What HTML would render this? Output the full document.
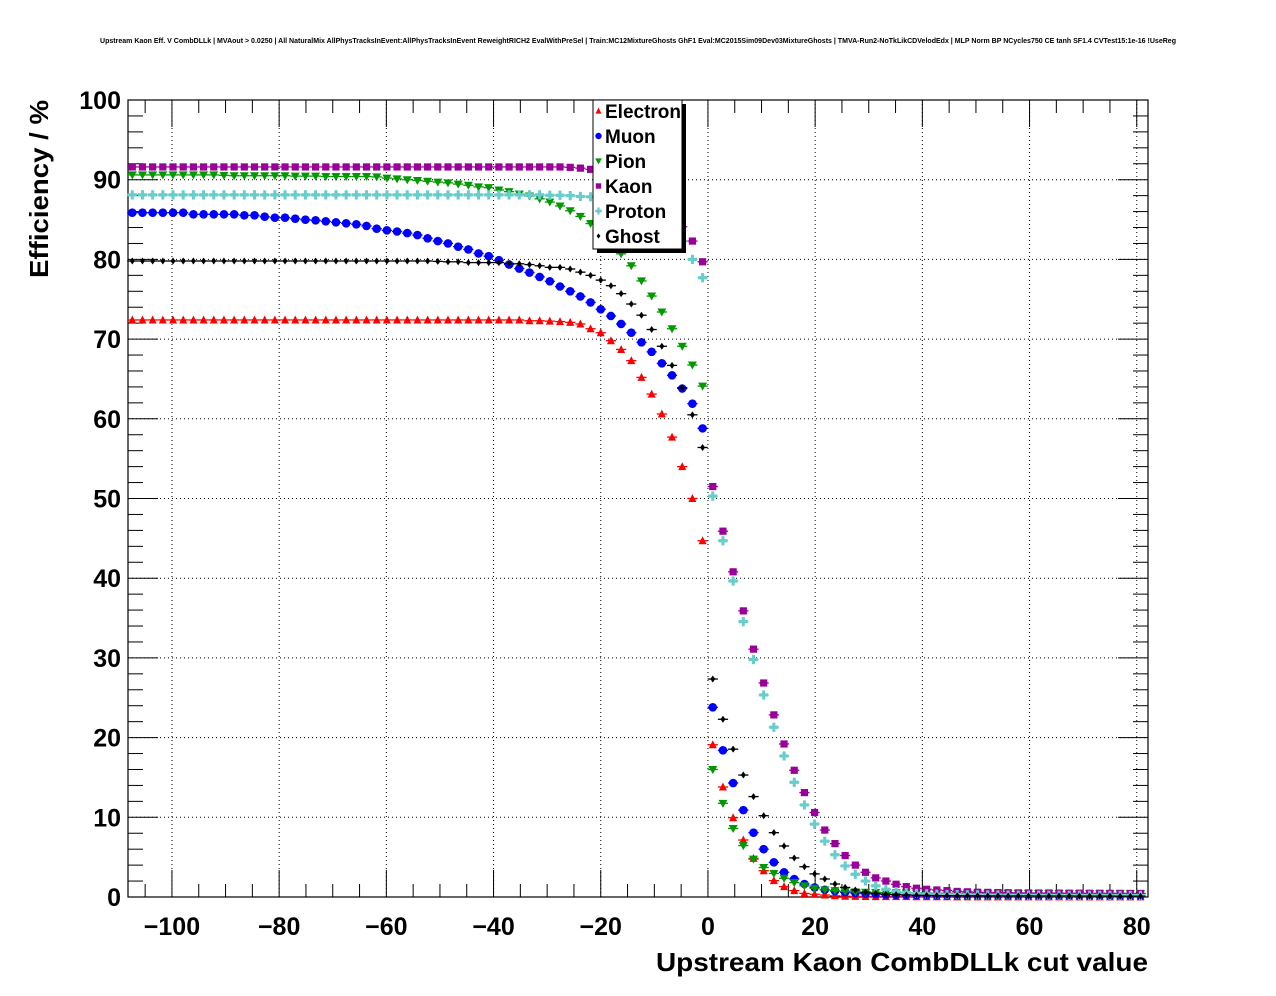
<!DOCTYPE html>
<html><head><meta charset="utf-8"><style>
html,body{margin:0;padding:0;background:#fff;}
svg{display:block;font-family:"Liberation Sans",Arial,sans-serif;}
</style></head><body>
<svg id="chart" width="1276" height="996" viewBox="0 0 1276 996" xmlns="http://www.w3.org/2000/svg">
<rect x="0" y="0" width="1276" height="996" fill="#fff"/>
<text x="100" y="43" font-size="7" font-weight="bold" textLength="1076" lengthAdjust="spacingAndGlyphs">Upstream Kaon Eff. V CombDLLk | MVAout &gt; 0.0250 | All NaturalMix AllPhysTracksInEvent:AllPhysTracksInEvent ReweightRICH2 EvalWithPreSel | Train:MC12MixtureGhosts GhF1 Eval:MC2015Sim09Dev03MixtureGhosts | TMVA-Run2-NoTkLikCDVelodEdx | MLP Norm BP NCycles750 CE tanh SF1.4 CVTest15:1e-16 !UseReg</text>
<g id="grid"></g>
<g id="axes"></g>
<g id="series"></g>
<text transform="translate(48,100) rotate(-90)" text-anchor="end" font-size="26" font-weight="bold" textLength="178" lengthAdjust="spacingAndGlyphs">Efficiency / %</text>
<text x="1148" y="971" text-anchor="end" font-size="26" font-weight="bold" textLength="492" lengthAdjust="spacingAndGlyphs">Upstream Kaon CombDLLk cut value</text>
<g id="legend"></g>
</svg>
<script>
const xTicks=[-100,-80,-60,-40,-20,0,20,40,60,80];
const yTicks=[0,10,20,30,40,50,60,70,80,90,100];
const nPts=100;
const cutStart=-107.4, cutStep=1.9;
const cuts=[];for(let k=0;k<nPts;k++)cuts.push(+(cutStart+cutStep*k).toFixed(2));
const electron=[72.4,72.4,72.4,72.4,72.4,72.4,72.4,72.4,72.4,72.4,72.4,72.4,72.4,72.4,72.4,72.4,72.4,72.4,72.4,72.4,72.4,72.4,72.4,72.4,72.4,72.4,72.4,72.4,72.4,72.4,72.4,72.4,72.4,72.4,72.4,72.4,72.4,72.4,72.4,72.3,72.3,72.25,72.2,72.1,71.9,71.3,70.8,69.8,68.7,67.3,65.2,63.1,60.6,57.7,54.0,50.0,44.7,19.1,13.8,9.95,7.15,4.85,3.3,2.05,1.3,0.8,0.45,0.35,0.25,0.15,0.1,0.08,0.06,0.05,0.05,0.04,0.04,0.03,0.03,0.03,0.03,0.02,0.02,0.02,0.02,0.02,0.02,0.02,0.02,0.02,0.02,0.02,0.02,0.02,0.02,0.02,0.02,0.02,0.02,0.02];
const muon=[85.86,85.86,85.86,85.86,85.86,85.86,85.66,85.66,85.66,85.66,85.66,85.53,85.53,85.36,85.23,85.23,85.11,84.98,84.9,84.78,84.65,84.53,84.4,84.2,83.85,83.65,83.5,83.3,83.05,82.65,82.3,82.0,81.6,81.25,80.75,80.4,79.9,79.35,78.85,78.35,77.8,77.25,76.6,76.0,75.35,74.6,73.74,72.9,71.9,70.8,69.6,68.4,66.96,65.46,63.8,61.9,58.8,23.8,18.4,14.3,10.9,8.07,6.0,4.35,3.1,2.26,1.63,1.2,0.9,0.75,0.6,0.5,0.42,0.36,0.3,0.28,0.26,0.24,0.22,0.2,0.2,0.19,0.18,0.18,0.17,0.17,0.16,0.16,0.15,0.15,0.15,0.15,0.14,0.14,0.14,0.14,0.13,0.13,0.13,0.13];
const pion=[90.6,90.6,90.6,90.6,90.6,90.6,90.6,90.6,90.6,90.55,90.5,90.5,90.5,90.5,90.5,90.5,90.45,90.45,90.45,90.4,90.4,90.4,90.4,90.4,90.35,90.2,90.1,90.0,89.9,89.8,89.7,89.6,89.45,89.3,89.1,89.0,88.7,88.5,88.2,87.95,87.6,87.2,86.7,86.1,85.4,84.5,83.3,82.0,80.7,79.2,77.3,75.4,73.4,71.3,69.1,66.75,64.1,16.0,11.75,8.6,6.45,4.75,3.7,2.95,2.35,1.8,1.4,1.1,0.9,0.8,0.7,0.65,0.6,0.58,0.55,0.53,0.52,0.5,0.5,0.49,0.48,0.48,0.47,0.47,0.46,0.46,0.45,0.45,0.45,0.44,0.44,0.44,0.43,0.43,0.43,0.42,0.42,0.42,0.42,0.42];
const kaon=[91.6,91.6,91.6,91.6,91.6,91.6,91.6,91.6,91.6,91.6,91.6,91.6,91.6,91.6,91.6,91.6,91.6,91.6,91.6,91.6,91.6,91.6,91.6,91.6,91.6,91.6,91.6,91.6,91.6,91.6,91.6,91.6,91.6,91.6,91.6,91.6,91.6,91.6,91.6,91.6,91.6,91.6,91.6,91.55,91.45,91.3,91.1,90.8,90.4,89.9,89.2,88.3,87.1,85.7,84.1,82.3,79.7,51.5,45.9,40.8,35.9,31.1,26.85,22.85,19.2,15.9,13.1,10.6,8.4,6.7,5.2,4.0,3.1,2.4,2.0,1.6,1.3,1.1,0.97,0.88,0.8,0.7,0.65,0.6,0.58,0.56,0.54,0.52,0.51,0.5,0.5,0.49,0.48,0.48,0.47,0.47,0.46,0.46,0.45,0.45];
const proton=[88.1,88.1,88.1,88.1,88.1,88.1,88.1,88.1,88.1,88.1,88.1,88.1,88.1,88.1,88.1,88.1,88.1,88.1,88.1,88.1,88.1,88.1,88.1,88.1,88.1,88.1,88.1,88.1,88.1,88.1,88.1,88.1,88.1,88.1,88.1,88.1,88.1,88.1,88.1,88.1,88.1,88.05,88.05,88.0,87.9,87.85,87.8,87.6,87.3,87.0,86.5,85.8,84.9,83.8,82.3,80.0,77.7,50.3,44.7,39.65,34.55,29.8,25.35,21.3,17.7,14.4,11.55,9.15,7.0,5.3,3.9,2.85,2.0,1.4,0.97,0.67,0.55,0.45,0.4,0.35,0.32,0.3,0.28,0.27,0.26,0.25,0.24,0.23,0.22,0.22,0.21,0.21,0.2,0.2,0.2,0.2,0.19,0.19,0.19,0.19];
const ghost=[79.8,79.8,79.8,79.8,79.8,79.8,79.8,79.8,79.8,79.8,79.8,79.8,79.8,79.8,79.8,79.8,79.8,79.8,79.8,79.8,79.8,79.8,79.8,79.8,79.8,79.8,79.8,79.8,79.8,79.8,79.75,79.7,79.7,79.6,79.6,79.6,79.6,79.5,79.45,79.35,79.2,79.0,79.0,78.8,78.4,78.0,77.4,76.7,75.7,74.4,73.0,71.2,69.1,66.7,63.9,60.5,56.4,27.35,22.3,18.55,15.3,12.6,10.2,8.07,6.4,4.9,3.8,2.9,2.26,1.63,1.2,0.88,0.6,0.45,0.35,0.3,0.25,0.22,0.2,0.18,0.17,0.16,0.15,0.15,0.14,0.14,0.13,0.13,0.13,0.12,0.12,0.12,0.12,0.11,0.11,0.11,0.11,0.1,0.1,0.1];
const seriesNames=["Electron","Muon","Pion","Kaon","Proton","Ghost"];
const seriesColors=["#ff0000","#0000ff","#009900","#990099","#66cccc","#000000"];
const seriesShapes=["tri-up","circle","tri-down","square","cross","diamond"];
const seriesData=[electron,muon,pion,kaon,proton,ghost];

const NS="http://www.w3.org/2000/svg";
const X0=128,X1=1148,Y0=897,Y1=100;
const xMin=-108.2,xMax=82.1,yMin=0,yMax=100;
function xs(v){return X0+(v-xMin)/(xMax-xMin)*(X1-X0);}
function ys(v){return Y0-(v-yMin)/(yMax-yMin)*(Y0-Y1);}
function mk(tag,attrs,parent){const e=document.createElementNS(NS,tag);for(const k in attrs)e.setAttribute(k,attrs[k]);parent.appendChild(e);return e;}
const grid=document.getElementById('grid'),axes=document.getElementById('axes'),ser=document.getElementById('series'),leg=document.getElementById('legend');

xTicks.forEach(t=>{const l=mk('line',{x1:xs(t),x2:xs(t),y1:Y1,y2:Y0,stroke:'#000','stroke-width':1,'stroke-dasharray':'1,3'},grid);

});
yTicks.forEach(t=>{const l=mk('line',{x1:X0,x2:X1,y1:ys(t),y2:ys(t),stroke:'#000','stroke-width':1,'stroke-dasharray':'1,3'},grid);

});

mk('rect',{x:X0,y:Y1,width:X1-X0,height:Y0-Y1,fill:'none',stroke:'#000','stroke-width':1.2},axes);
for(let v=-105;v<=80;v+=5){const major=v%20===0;const L=major?27:13;
mk('line',{x1:xs(v),x2:xs(v),y1:Y0,y2:Y0-L,stroke:'#000','stroke-width':1},axes);
mk('line',{x1:xs(v),x2:xs(v),y1:Y1,y2:Y1+L,stroke:'#000','stroke-width':1},axes);}
for(let v=0;v<=100;v+=2){const major=v%10===0;const L=major?30:15;
mk('line',{x1:X0,x2:X0+L,y1:ys(v),y2:ys(v),stroke:'#000','stroke-width':1},axes);
mk('line',{x1:X1,x2:X1-L,y1:ys(v),y2:ys(v),stroke:'#000','stroke-width':1},axes);}
xTicks.forEach(t=>{const tx=mk('text',{x:xs(t),y:935,'text-anchor':'middle','font-size':25,'font-weight':'bold'},axes);
tx.textContent=(t<0?'\u2212'+(-t):String(t));

});
yTicks.forEach(t=>{const tx=mk('text',{x:121,y:ys(t)+9,'text-anchor':'end','font-size':25,'font-weight':'bold'},axes);
tx.textContent=String(t);

});

function marker(shape,cx,cy,color,parent,s){
 s=s||1;let e;
 if(shape==='tri-up')e=mk('polygon',{points:`${cx},${cy-4.5*s} ${cx-4*s},${cy+3.5*s} ${cx+4*s},${cy+3.5*s}`,fill:color},parent);
 else if(shape==='tri-down')e=mk('polygon',{points:`${cx},${cy+4.5*s} ${cx-4.5*s},${cy-3.5*s} ${cx+4.5*s},${cy-3.5*s}`,fill:color},parent);
 else if(shape==='circle')e=mk('circle',{cx:cx,cy:cy,r:4.3*s,fill:color},parent);
 else if(shape==='square')e=mk('rect',{x:cx-3.6*s,y:cy-3.6*s,width:7.2*s,height:7.2*s,fill:color},parent);
 else if(shape==='cross')e=mk('path',{d:`M${cx-4.5*s},${cy-1.6*s}h${3*s}v${-3*s}h${3*s}v${3*s}h${3*s}v${3.2*s}h${-3*s}v${3*s}h${-3*s}v${-3*s}h${-3*s}z`,fill:color},parent);
 else e=mk('polygon',{points:`${cx},${cy-3.5*s} ${cx+2.5*s},${cy} ${cx},${cy+3.5*s} ${cx-2.5*s},${cy}`,fill:color},parent);
 return e;}

seriesData.forEach((arr,si)=>{
 const g=mk('g',{},ser);
 
 
 arr.forEach((v,k)=>{const cx=xs(cuts[k]),cy=ys(v);
  mk('line',{x1:cx-5.1,x2:cx+5.1,y1:cy,y2:cy,stroke:seriesColors[si],'stroke-width':1.3},g);
  const m=marker(seriesShapes[si],cx,cy,seriesColors[si],g);
  
  });
});

mk('rect',{x:597,y:104,width:89,height:149,fill:'#000'},leg);
mk('rect',{x:593,y:100,width:89,height:149,fill:'#fff',stroke:'#000','stroke-width':1},leg);
seriesNames.forEach((n,i)=>{const y=111+25*i;
 const m=marker(seriesShapes[i],598.5,y,seriesColors[i],leg,0.75);
 
 
 const t=mk('text',{x:605,y:y+7,'font-size':19,'font-weight':'bold'},leg);
 t.textContent=n;
 
 });
</script>
</body></html>
